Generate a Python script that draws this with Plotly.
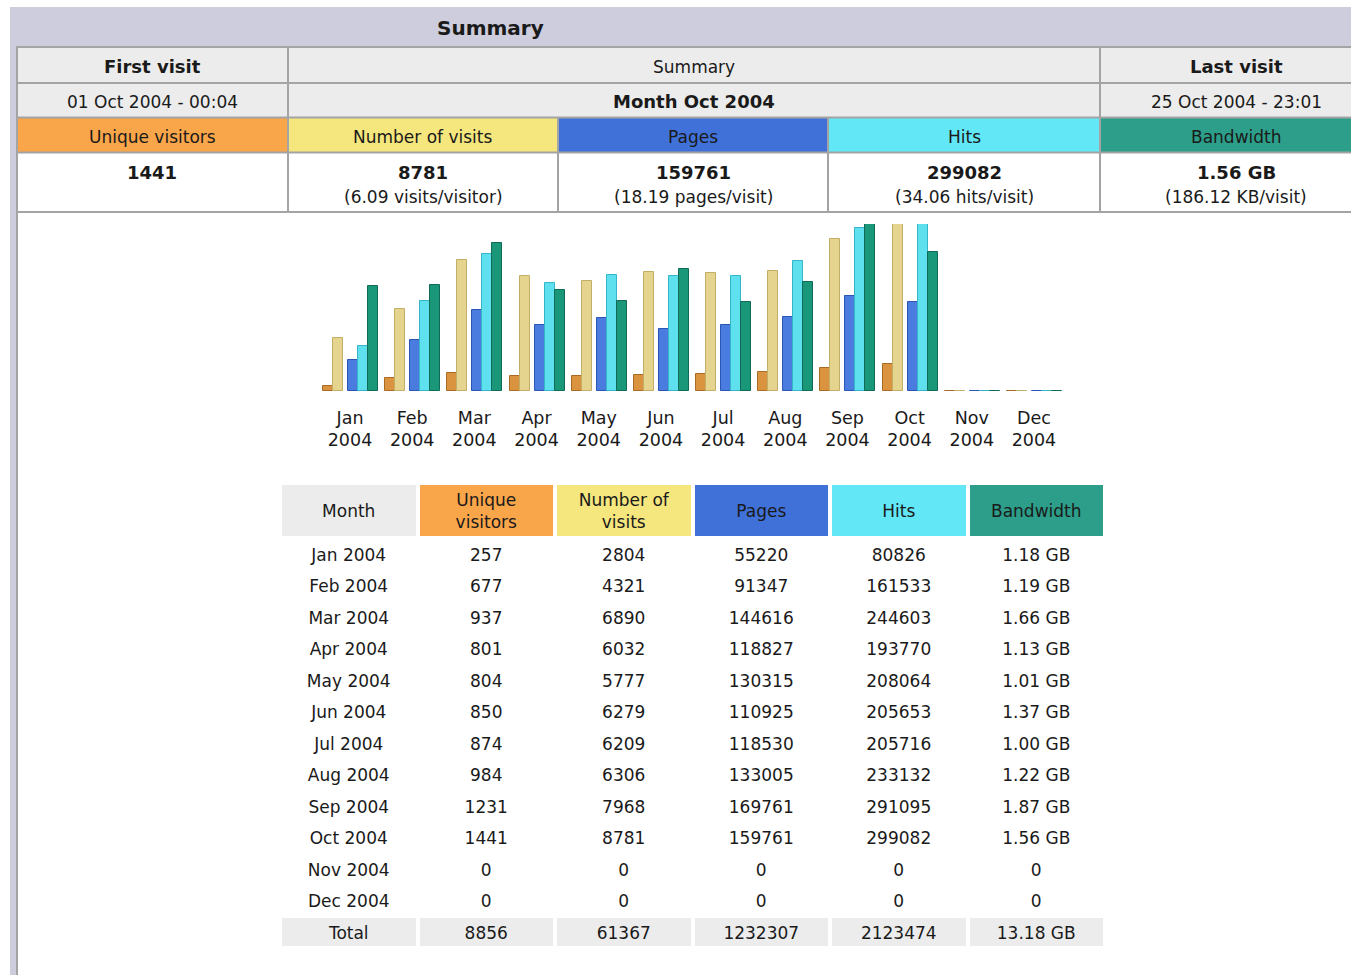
import plotly.graph_objects as go

W, H = 1351, 975

# ---------------- data ----------------
months = ["Jan", "Feb", "Mar", "Apr", "May", "Jun", "Jul", "Aug", "Sep", "Oct", "Nov", "Dec"]
year = "2004"
unique_visitors = [257, 677, 937, 801, 804, 850, 874, 984, 1231, 1441, 0, 0]
visits = [2804, 4321, 6890, 6032, 5777, 6279, 6209, 6306, 7968, 8781, 0, 0]
pages = [55220, 91347, 144616, 118827, 130315, 110925, 118530, 133005, 169761, 159761, 0, 0]
hits = [80826, 161533, 244603, 193770, 208064, 205653, 205716, 233132, 291095, 299082, 0, 0]
bandwidth_gb = [1.18, 1.19, 1.66, 1.13, 1.01, 1.37, 1.00, 1.22, 1.87, 1.56, 0, 0]
bandwidth_total = "13.18 GB"

current_month = 9  # Oct 2004
title_text = "Summary"
summary_top = ["First visit", "Summary", "Last visit"]
summary_second = ["01 Oct 2004 - 00:04", "Month Oct 2004", "25 Oct 2004 - 23:01"]
metric_names = ["Unique visitors", "Number of visits", "Pages", "Hits", "Bandwidth"]
summary_ratios = ["", "(6.09 visits/visitor)", "(18.19 pages/visit)",
                  "(34.06 hits/visit)", "(186.12 KB/visit)"]
table_headers = ["Month", "Unique<br>visitors", "Number of<br>visits", "Pages", "Hits", "Bandwidth"]

# ---------------- style ----------------
FONT = "DejaVu Sans"
TXT = "#1a1a1a"
hdr_colors = ["#F9A54A", "#F5E67E", "#4071D9", "#62E7F7", "#2C9E89"]
bar_colors = ["#DA9440", "#E5D48E", "#4A7CE0", "#5FE0EE", "#1A9679"]
bar_edges = ["#A86A25", "#C2AE66", "#2B55B3", "#35B5CA", "#0F6B55"]
GRAYCELL = "#ECECEC"
BORDER = "#A4A4A4"
FRAME = "#CDCDDD"


def px(x):
    return x / W


def py(y):
    return 1 - y / H


shapes = []
annotations = []


def rect(x0, y0, x1, y1, fill, lw=0, lc=BORDER):
    shapes.append(dict(type="rect", xref="paper", yref="paper", layer="below",
                       x0=px(x0), x1=px(x1), y0=py(y1), y1=py(y0),
                       fillcolor=fill, line=dict(width=lw, color=lc)))


def hline(x0, x1, y, lw=2, lc=BORDER):
    shapes.append(dict(type="line", xref="paper", yref="paper", layer="below",
                       x0=px(x0), x1=px(x1), y0=py(y), y1=py(y), line=dict(width=lw, color=lc)))


def vline(x, y0, y1, lw=2, lc=BORDER):
    shapes.append(dict(type="line", xref="paper", yref="paper", layer="below",
                       x0=px(x), x1=px(x), y0=py(y0), y1=py(y1), line=dict(width=lw, color=lc)))


def text(x, y, s, size=17, bold=False):
    annotations.append(dict(x=px(x), y=py(y), xref="paper", yref="paper", text=s,
                            showarrow=False, xanchor="center", yanchor="middle",
                            font=dict(family=FONT, size=size, color=TXT,
                                      weight="bold" if bold else "normal")))


# ---------------- page frame / summary block ----------------
rect(10, 7, W + 20, H + 20, FRAME)
rect(16, 47, W + 40, H + 20, "white")

cols = [16, 288, 558, 828, 1100, 1372]
rows = [47, 83, 117.5, 152.5, 212]
centers = [(cols[i] + cols[i + 1]) / 2 for i in range(5)]

for r in range(2):
    rect(cols[0], rows[r], cols[1], rows[r + 1], GRAYCELL)
    rect(cols[1], rows[r], cols[4], rows[r + 1], GRAYCELL)
    rect(cols[4], rows[r], cols[5], rows[r + 1], GRAYCELL)
for i in range(5):
    rect(cols[i], rows[2], cols[i + 1], rows[3], hdr_colors[i])
    rect(cols[i], rows[3], cols[i + 1], rows[4], "white")

for y in rows:
    hline(cols[0], cols[5], y)
vline(cols[0] + 1, rows[0], H + 5)
vline(cols[1], rows[0], rows[4])
vline(cols[4], rows[0], rows[4])
vline(cols[2], rows[2], rows[4])
vline(cols[3], rows[2], rows[4])

text(490, 27.5, title_text, size=20, bold=True)
mid_top = (cols[1] + cols[4]) / 2
text(centers[0], 67, summary_top[0], size=18, bold=True)
text(mid_top, 67, summary_top[1], size=17)
text(centers[4], 67, summary_top[2], size=18, bold=True)
text(centers[0], 102, summary_second[0], size=17)
text(mid_top, 102, summary_second[1], size=18, bold=True)
text(centers[4], 102, summary_second[2], size=17)

cur_vals = [str(unique_visitors[current_month]), str(visits[current_month]),
            str(pages[current_month]), str(hits[current_month]),
            f"{bandwidth_gb[current_month]:.2f} GB"]
for i in range(5):
    text(centers[i], 137, metric_names[i], size=17)
    text(centers[i], 173, cur_vals[i], size=18, bold=True)
    if summary_ratios[i]:
        text(centers[i], 196.5, summary_ratios[i], size=17)

# ---------------- bar chart ----------------
pitch = 62.18          # pixels per month
first_center = 350     # pixel of January centre
x_dom = (300, 1085)
x_range = [(x_dom[0] - first_center) / pitch, (x_dom[1] - first_center) / pitch]
bar_w = 10 / pitch
offsets_px = [-27, -17, -2, 8, 18]

series = [(unique_visitors, "y"), (visits, "y"), (pages, "y2"), (hits, "y2"), (bandwidth_gb, "y3")]
idx = list(range(len(months)))

fig = go.Figure()
for k, (vals, yax) in enumerate(series):
    fig.add_trace(go.Bar(
        x=idx, y=vals, yaxis=yax, xaxis="x",
        width=[bar_w] * len(idx), offset=offsets_px[k] / pitch,
        marker=dict(color=bar_colors[k], line=dict(color=bar_edges[k], width=1)),
        hoverinfo="skip", showlegend=False))

# ---------------- monthly table ----------------
hdr_h, row_h = 55, 31.5
n_rows = len(months) + 1
y_edges = [0, hdr_h] + [hdr_h + row_h * (k + 1) for k in range(n_rows)]
tbl_top = 483
tbl_bottom = tbl_top + y_edges[-1]
text_shift = 2.5  # px, visual centring of text in cells

cell_palette = [GRAYCELL] + hdr_colors + ["white"]
z = [[0, 1, 2, 3, 4, 5]] + [[6] * 6 for _ in months] + [[0] * 6]
cscale = []
for i, c in enumerate(cell_palette):
    cscale.append([i / len(cell_palette), c])
    cscale.append([(i + 1) / len(cell_palette), c])

fig.add_trace(go.Heatmap(
    z=z, x=list(range(7)), y=y_edges, xaxis="x2", yaxis="y4",
    colorscale=cscale, zmin=-0.5, zmax=len(cell_palette) - 0.5,
    xgap=4, ygap=4, showscale=False, hoverinfo="skip"))

bw_labels = [f"{v:.2f} GB" if v else "0" for v in bandwidth_gb]
table_rows = [table_headers]
for i, m in enumerate(months):
    table_rows.append([f"{m} {year}", str(unique_visitors[i]), str(visits[i]),
                       str(pages[i]), str(hits[i]), bw_labels[i]])
table_rows.append(["Total", str(sum(unique_visitors)), str(sum(visits)),
                   str(sum(pages)), str(sum(hits)), bandwidth_total])

tx, ty, tt = [], [], []
for r, row in enumerate(table_rows):
    yc = (y_edges[r] + y_edges[r + 1]) / 2 + text_shift
    for c, s in enumerate(row):
        tx.append(c + 0.5)
        ty.append(yc)
        tt.append(s)
fig.add_trace(go.Scatter(
    x=tx, y=ty, text=tt, mode="text", xaxis="x2", yaxis="y4",
    textposition="middle center",
    textfont=dict(family=FONT, size=17, color=TXT),
    hoverinfo="skip", showlegend=False))

# ---------------- layout ----------------
fig.update_layout(
    width=W, height=H, margin=dict(l=0, r=0, t=0, b=0),
    paper_bgcolor="white", plot_bgcolor="rgba(0,0,0,0)",
    barmode="overlay", bargap=0,
    shapes=shapes, annotations=annotations,
    xaxis=dict(domain=[px(x_dom[0]), px(x_dom[1])], range=x_range, anchor="y",
               tickvals=idx, ticktext=[f"{m}<br>{year}" for m in months],
               showgrid=False, zeroline=False, showline=False, ticks="",
               ticklabelstandoff=14,
               tickfont=dict(family=FONT, size=17.5, color=TXT), fixedrange=True),
    yaxis=dict(domain=[py(391), py(224)], range=[0, max(visits)], visible=False, fixedrange=True),
    yaxis2=dict(domain=[py(391), py(224)], range=[0, max(hits)], overlaying="y",
                visible=False, fixedrange=True),
    yaxis3=dict(domain=[py(391), py(224)], range=[0, max(bandwidth_gb)], overlaying="y",
                visible=False, fixedrange=True),
    xaxis2=dict(domain=[px(280), px(1105)], range=[0, 6], anchor="y4", visible=False, fixedrange=True),
    yaxis4=dict(domain=[py(tbl_bottom), py(tbl_top)], range=[y_edges[-1], 0], anchor="x2",
                visible=False, fixedrange=True),
    font=dict(family=FONT, color=TXT),
)

fig.write_html("out.html", config={"displayModeBar": False, "responsive": False},
               post_script="document.body.style.margin='0';document.body.style.overflow='hidden';")
